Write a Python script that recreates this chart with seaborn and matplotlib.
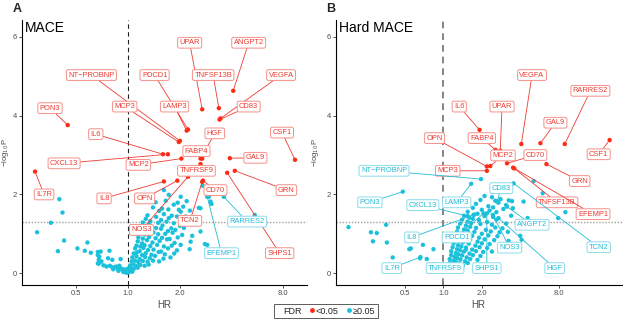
import numpy as np
import pandas as pd
import matplotlib
matplotlib.use("Agg")
import matplotlib.pyplot as plt
from matplotlib.lines import Line2D
from matplotlib.ticker import FixedLocator, FixedFormatter, NullLocator
import seaborn as sns

sns.set_theme(style="white")
plt.rcParams["font.family"] = ["Liberation Sans", "DejaVu Sans"]

# ---------------- MACE: labelled proteins ----------------
mace_names = ["UPAR", "ANGPT2", "NT−PROBNP", "PDCD1", "TNFSF13B", "VEGFA", "PON3",
              "MCP3", "LAMP3", "CD83", "IL6", "HGF", "CSF1", "FABP4", "CXCL13",
              "MCP2", "GAL9", "IL7R", "TNFRSF9", "GRN", "IL8", "OPN", "CD70",
              "NOS3", "TCN2", "SHPS1", "RARRES2", "EFEMP1"]
mace_hr = [2.71, 4.11, 2.01, 2.24, 3.39, 3.47, 0.445,
           1.98, 2.20, 3.42, 1.60, 2.65, 9.43, 2.71, 1.71,
           2.05, 3.93, 0.287, 2.65, 4.20, 1.62, 1.94, 2.74,
           2.24, 2.71, 3.79, 3.62, 2.90]
mace_logp = [4.16, 4.63, 3.36, 3.65, 4.19, 3.93, 3.76,
             3.33, 3.62, 3.90, 3.02, 2.91, 2.88, 2.91, 3.02,
             2.91, 2.92, 2.58, 2.77, 2.60, 2.33, 2.35, 2.35,
             2.45, 2.32, 2.55, 1.94, 1.94]
mace_sig = [True] * 26 + [False] * 2

# ---------------- MACE: remaining proteins ----------------
mace_other_hr = [
    0.398, 0.415, 0.355, 0.295, 0.424, 0.390, 0.507, 0.580, 0.560, 0.607,
    0.667, 0.693, 0.780, 0.667, 0.680, 0.675, 0.667, 0.675, 0.693, 0.765,
    0.810, 0.906, 0.750, 0.785, 0.810, 0.850, 0.870, 0.906, 0.930, 0.890,
    0.970, 0.990, 1.010, 0.700, 0.720, 0.820, 0.880, 0.950, 0.980, 0.940,
    2.73, 1.62, 1.73, 2.03, 2.96,
    1.45, 1.66, 1.95, 2.20, 3.03, 3.07, 1.85,
    1.40, 1.58, 2.10, 2.59, 2.65,
    1.52, 1.98, 2.30, 1.72, 2.03,
    1.30, 1.62, 1.80, 2.17, 5.49,
    1.27, 1.46, 1.56, 1.73, 1.93,
    1.22, 1.35, 1.50, 1.68, 1.85, 2.25,
    1.24, 1.33, 1.46, 1.59, 1.79, 2.01, 2.36,
    1.19, 1.29, 1.41, 1.56, 1.71, 1.89, 2.12,
    2.65, 1.18, 1.26, 1.38, 1.50, 1.65, 1.82,
    2.07, 2.37, 1.15, 1.22, 1.33, 1.45, 1.58, 1.75, 1.95,
    1.14, 1.21, 1.29, 1.39, 1.53, 1.69, 1.87, 2.32,
    2.81, 2.03, 2.90, 1.12, 1.18, 1.25, 1.35, 1.48, 1.62, 1.80,
    2.29, 1.10, 1.17, 1.23, 1.31, 1.41, 1.56, 1.71, 1.93,
    1.08, 1.13, 1.21, 1.27, 1.37, 1.51, 1.64, 1.86,
    1.06, 1.12, 1.17, 1.26, 1.34, 1.44, 1.61, 1.77,
    1.05, 1.10, 1.15, 1.22, 1.30, 1.40, 1.52,
    1.03, 1.08, 1.12, 1.18, 1.25, 1.32,
    1.00, 1.04, 1.08, 1.14, 0.97, 1.02, 1.06,
]
mace_other_logp = [
    1.88, 1.54, 1.28, 1.04, 0.83, 0.56, 0.63, 0.78, 0.57, 0.52,
    0.54, 0.55, 0.57, 0.46, 0.42, 0.34, 0.25, 0.24, 0.29, 0.38,
    0.34, 0.36, 0.17, 0.19, 0.15, 0.17, 0.11, 0.13, 0.08, 0.19,
    0.04, 0.07, 0.02, 0.30, 0.20, 0.10, 0.06, 0.10, 0.01, 0.03,
    2.22, 2.11, 1.99, 1.94, 1.94,
    1.80, 1.84, 1.79, 1.83, 1.82, 1.76, 1.74,
    1.67, 1.64, 1.69, 1.66, 1.65,
    1.58, 1.61, 1.59, 1.62, 1.56,
    1.47, 1.50, 1.46, 1.44, 1.48,
    1.38, 1.43, 1.35, 1.40, 1.44,
    1.29, 1.32, 1.28, 1.31, 1.27, 1.30,
    1.19, 1.24, 1.15, 1.21, 1.14, 1.20, 1.25,
    1.05, 1.12, 1.04, 1.13, 1.07, 1.10, 1.15,
    1.06, 1.01, 0.98, 1.02, 0.99, 1.00, 1.03,
    0.97, 0.95, 0.91, 0.88, 0.92, 0.89, 0.90, 0.87, 0.91,
    0.81, 0.76, 0.84, 0.78, 0.82, 0.86, 0.77, 0.80,
    0.74, 0.72, 0.72, 0.70, 0.68, 0.71, 0.69, 0.72, 0.68, 0.70,
    0.61, 0.63, 0.56, 0.64, 0.59, 0.60, 0.55, 0.63, 0.58,
    0.50, 0.53, 0.46, 0.51, 0.47, 0.54, 0.48, 0.50,
    0.40, 0.43, 0.36, 0.41, 0.38, 0.44, 0.37, 0.40,
    0.30, 0.32, 0.28, 0.31, 0.29, 0.32, 0.30,
    0.20, 0.22, 0.18, 0.21, 0.19, 0.22,
    0.12, 0.13, 0.11, 0.14, 0.05, 0.06, 0.04,
]

# ---------------- Hard MACE: labelled proteins ----------------
hard_names = ["VEGFA", "RARRES2", "IL6", "UPAR", "GAL9", "OPN", "FABP4", "CD70",
              "CSF1", "MCP2", "MCP3", "GRN", "TNFSF13B", "EFEMP1",
              "NT−PROBNP", "PON3", "CXCL13", "LAMP3", "CD83", "ANGPT2", "IL8",
              "PDCD1", "NOS3", "TCN2", "IL7R", "TNFRSF9", "SHPS1", "HGF"]
hard_hr = [4.08, 8.94, 1.92, 2.79, 5.76, 2.19, 2.56, 3.15,
           20.1, 2.33, 2.19, 6.42, 3.59, 3.52,
           1.97, 0.48, 1.55, 1.65, 2.63, 3.15, 1.72,
           2.06, 2.44, 3.55, 0.66, 1.50, 2.19, 2.70]
hard_logp = [3.28, 3.28, 3.64, 3.11, 3.30, 2.71, 3.13, 2.79,
             3.38, 2.72, 2.60, 2.77, 2.66, 2.68,
             2.39, 2.07, 1.45, 2.27, 1.82, 1.69, 1.48,
             1.52, 1.48, 2.28, 0.41, 0.60, 1.52, 1.40]
hard_sig = [True] * 14 + [False] * 14

# ---------------- Hard MACE: remaining proteins ----------------
hard_other_hr = [
    0.18, 0.27, 0.30, 0.355, 0.28, 0.36, 0.40, 0.54, 0.555, 0.69, 0.835, 0.655, 0.74, 0.835,
    5.10, 6.00, 7.93, 9.04, 4.25, 4.57, 4.00, 4.10, 3.24,
    2.10, 2.40, 1.95, 2.55, 2.80, 3.25, 3.45,
    1.80, 2.25, 2.70, 3.10, 1.70, 2.00, 2.45, 2.95, 3.50,
    1.55, 1.85, 2.30, 2.60, 1.45, 1.60, 1.75, 2.10, 2.45, 3.40,
    1.40, 1.55, 1.70, 1.90, 2.20, 2.60, 1.35, 1.50, 1.65, 1.95, 2.40, 3.10,
    1.30, 1.45, 1.62, 1.80, 2.15, 2.55, 2.90,
    1.28, 1.40, 1.55, 1.75, 2.00, 2.35, 2.75, 3.20,
    1.25, 1.38, 1.52, 1.68, 1.90, 2.25, 2.65,
    1.22, 1.33, 1.48, 1.62, 1.85, 2.10, 2.50,
    1.20, 1.30, 1.42, 1.58, 1.78, 2.00, 2.30,
    1.18, 1.28, 1.38, 1.50, 1.68, 1.92, 2.20,
    1.15, 1.25, 1.35, 1.45, 1.60, 1.80, 2.05, 2.40,
    1.15, 1.22, 1.30, 1.40, 1.52, 1.70, 1.95,
    1.12, 1.20, 1.28, 1.36, 1.48, 1.62, 1.85,
    1.12, 1.18, 1.25, 1.33, 1.42, 1.55, 1.16, 1.22, 1.30, 1.40,
]
hard_other_logp = [
    1.17, 1.04, 1.02, 1.23, 0.81, 0.78, 0.40, 0.61, 0.63, 0.72, 0.61, 0.38, 0.36, 0.23,
    2.34, 2.03, 1.40, 1.55, 1.82, 1.40, 0.95, 0.85, 0.82,
    1.96, 1.93, 1.86, 1.84, 1.88, 1.85, 1.83,
    1.76, 1.70, 1.79, 1.73, 1.66, 1.61, 1.67, 1.63, 1.65,
    1.56, 1.51, 1.59, 1.55, 1.46, 1.41, 1.49, 1.45, 1.43, 1.46,
    1.36, 1.31, 1.38, 1.35, 1.30, 1.36, 1.26, 1.21, 1.27, 1.25, 1.23, 1.26,
    1.16, 1.11, 1.18, 1.15, 1.10, 1.16, 1.14,
    1.06, 1.01, 1.08, 1.05, 1.00, 1.06, 1.04, 1.05,
    0.96, 0.91, 0.98, 0.95, 0.90, 0.96, 0.94,
    0.86, 0.81, 0.88, 0.85, 0.80, 0.86, 0.84,
    0.76, 0.71, 0.78, 0.75, 0.70, 0.76, 0.74,
    0.66, 0.61, 0.68, 0.65, 0.60, 0.66, 0.64,
    0.56, 0.51, 0.58, 0.55, 0.50, 0.56, 0.54, 0.55,
    0.46, 0.41, 0.48, 0.45, 0.40, 0.46, 0.44,
    0.36, 0.31, 0.38, 0.35, 0.30, 0.36, 0.34,
    0.26, 0.21, 0.28, 0.25, 0.20, 0.26, 0.17, 0.12, 0.18, 0.14,
]

x_ticks = [0.5, 1.0, 2.0, 8.0]
x_tick_labels = ["0.5", "1.0", "2.0", "8.0"]
y_ticks = [0, 2, 4, 6]
fdr_levels = ["<0.05", "≥0.05"]

# label box placement (HR, -log10 P) for the repelled labels
mace_label_xy = {
    "UPAR": (2.29, 5.85), "ANGPT2": (5.06, 5.85), "NT−PROBNP": (0.612, 5.03),
    "PDCD1": (1.43, 5.03), "TNFSF13B": (3.14, 5.03), "VEGFA": (7.82, 5.03),
    "PON3": (0.351, 4.19), "MCP3": (0.957, 4.23), "LAMP3": (1.87, 4.23),
    "CD83": (5.06, 4.23), "IL6": (0.649, 3.53), "HGF": (3.21, 3.55),
    "CSF1": (7.92, 3.57), "FABP4": (2.51, 3.10), "CXCL13": (0.424, 2.79),
    "MCP2": (1.15, 2.75), "GAL9": (5.54, 2.93), "TNFRSF9": (2.51, 2.60),
    "IL7R": (0.324, 2.0), "IL8": (0.725, 1.90), "OPN": (1.25, 1.90),
    "CD70": (3.24, 2.11), "GRN": (8.4, 2.11), "RARRES2": (4.96, 1.31),
    "TCN2": (2.30, 1.33), "NOS3": (1.20, 1.10), "EFEMP1": (3.51, 0.51),
    "SHPS1": (7.67, 0.51),
}
hard_label_xy = {
    "VEGFA": (4.95, 5.03), "RARRES2": (14.2, 4.63), "IL6": (1.33, 4.23),
    "UPAR": (2.88, 4.23), "GAL9": (7.55, 3.82), "OPN": (0.85, 3.43),
    "FABP4": (2.0, 3.43), "CD70": (5.26, 3.0), "CSF1": (16.5, 3.02),
    "MCP2": (2.93, 2.99), "NT−PROBNP": (0.342, 2.60), "MCP3": (1.08, 2.60),
    "GRN": (11.7, 2.34), "PON3": (0.265, 1.80), "CXCL13": (0.689, 1.73),
    "LAMP3": (1.27, 1.80), "CD83": (2.84, 2.16), "TNFSF13B": (7.78, 1.80),
    "EFEMP1": (14.9, 1.50), "ANGPT2": (4.95, 1.23), "IL8": (0.565, 0.91),
    "PDCD1": (1.27, 0.91), "NOS3": (3.30, 0.65), "TCN2": (16.5, 0.66),
    "IL7R": (0.393, 0.13), "TNFRSF9": (1.03, 0.13), "SHPS1": (2.19, 0.13),
    "HGF": (7.45, 0.13),
}

RED = "#FF2A12"
CYAN = "#1BC1DB"
RED_TXT = "#EE3A30"
RED_EDGE = "#F59089"
CYAN_TXT = "#20BCD6"
CYAN_EDGE = "#8ADCEA"
AXIS_TXT = "#4D4D4D"


def draw_panel(ax, names, hr, logp, sig, other_hr, other_logp, label_xy,
               xlim, vcolor, vlw, title, ylabel_x):
    fdr = ["≥0.05"] * len(other_hr) + ["<0.05" if s else "≥0.05" for s in sig]
    df = pd.DataFrame({
        "HR": list(other_hr) + list(hr),
        "logp": list(other_logp) + list(logp),
        "FDR": fdr,
    })
    ax.set_xscale("log", base=2)
    sns.scatterplot(data=df, x="HR", y="logp", hue="FDR", hue_order=fdr_levels,
                    palette={"<0.05": RED, "≥0.05": CYAN}, s=10, linewidth=0,
                    ax=ax, legend=False, zorder=3)
    ax.axvline(1.0, color=vcolor, lw=vlw, ls=(0, (4, 3)), zorder=1)
    ax.axhline(-np.log10(0.05), color="#A0A0A0", lw=1.0, ls=(0, (1, 1.2)), zorder=1)

    for name, h, lp, s in zip(names, hr, logp, sig):
        tx, ty = label_xy[name]
        tc = RED_TXT if s else CYAN_TXT
        ec = RED_EDGE if s else CYAN_EDGE
        ax.annotate(name, xy=(h, lp), xytext=(tx, ty), ha="center", va="center",
                    fontsize=5.4, color=tc, zorder=5, annotation_clip=False,
                    bbox=dict(boxstyle="round,pad=0.25,rounding_size=0.25",
                              fc="white", ec=ec, lw=0.7),
                    arrowprops=dict(arrowstyle="-", color=tc, lw=0.6,
                                    shrinkA=0, shrinkB=1.0))

    ax.set_xlim(*xlim)
    ax.set_ylim(-0.30, 6.43)
    ax.xaxis.set_major_locator(FixedLocator(x_ticks))
    ax.xaxis.set_major_formatter(FixedFormatter(x_tick_labels))
    ax.xaxis.set_minor_locator(NullLocator())
    ax.set_yticks(y_ticks)
    ax.tick_params(axis="both", length=2, width=0.6, labelsize=5.5,
                   labelcolor=AXIS_TXT, color="#333333", pad=1.5,
                   bottom=True, left=True)
    for side in ("top", "right"):
        ax.spines[side].set_visible(False)
    for side in ("left", "bottom"):
        ax.spines[side].set_color("black")
        ax.spines[side].set_linewidth(0.8)
    ax.set_xlabel("HR", fontsize=7, color=AXIS_TXT, labelpad=2)
    ax.set_ylabel("−log$_{10}$P", fontsize=5.6, color=AXIS_TXT)
    ax.yaxis.set_label_coords(ylabel_x, 0.5)
    ax.text(0.01, 0.995, title, transform=ax.transAxes, fontsize=10,
            ha="left", va="top", color="black")


fig = plt.figure(figsize=(6.28, 3.21), dpi=100)
fig.patch.set_facecolor("white")
ax_a = fig.add_axes([0.0346, 0.112, 0.4545, 0.826])
ax_b = fig.add_axes([0.5346, 0.112, 0.4554, 0.826])

draw_panel(ax_a, mace_names, mace_hr, mace_logp, mace_sig,
           mace_other_hr, mace_other_logp, mace_label_xy,
           (0.24, 11.1), "#222222", 0.8, "MACE", -0.036)
draw_panel(ax_b, hard_names, hard_hr, hard_logp, hard_sig,
           hard_other_hr, hard_other_logp, hard_label_xy,
           (0.143, 25.0), "#707070", 1.2, "Hard MACE", -0.05)

fig.text(16.7 / 628, 1 - 9.3 / 321, "A", fontsize=9, fontweight="bold",
         ha="center", va="center")
fig.text(330.7 / 628, 1 - 9.3 / 321, "B", fontsize=9, fontweight="bold",
         ha="center", va="center")

handles = [
    Line2D([], [], linestyle="none", marker=None),
    Line2D([], [], linestyle="none", marker="o", markersize=3.5,
           markerfacecolor=RED, markeredgewidth=0),
    Line2D([], [], linestyle="none", marker="o", markersize=3.5,
           markerfacecolor=CYAN, markeredgewidth=0),
]
leg = fig.legend(handles, ["FDR"] + fdr_levels, loc="center",
                 bbox_to_anchor=(326 / 628, 1 - 311 / 321), ncol=3,
                 fontsize=6.5, frameon=True, fancybox=False,
                 handlelength=0.6, handletextpad=0.15, columnspacing=0.8,
                 borderpad=0.25, borderaxespad=0)
leg.get_frame().set_edgecolor("#333333")
leg.get_frame().set_linewidth(0.7)

fig.savefig("out.png", dpi=100, facecolor="white")
